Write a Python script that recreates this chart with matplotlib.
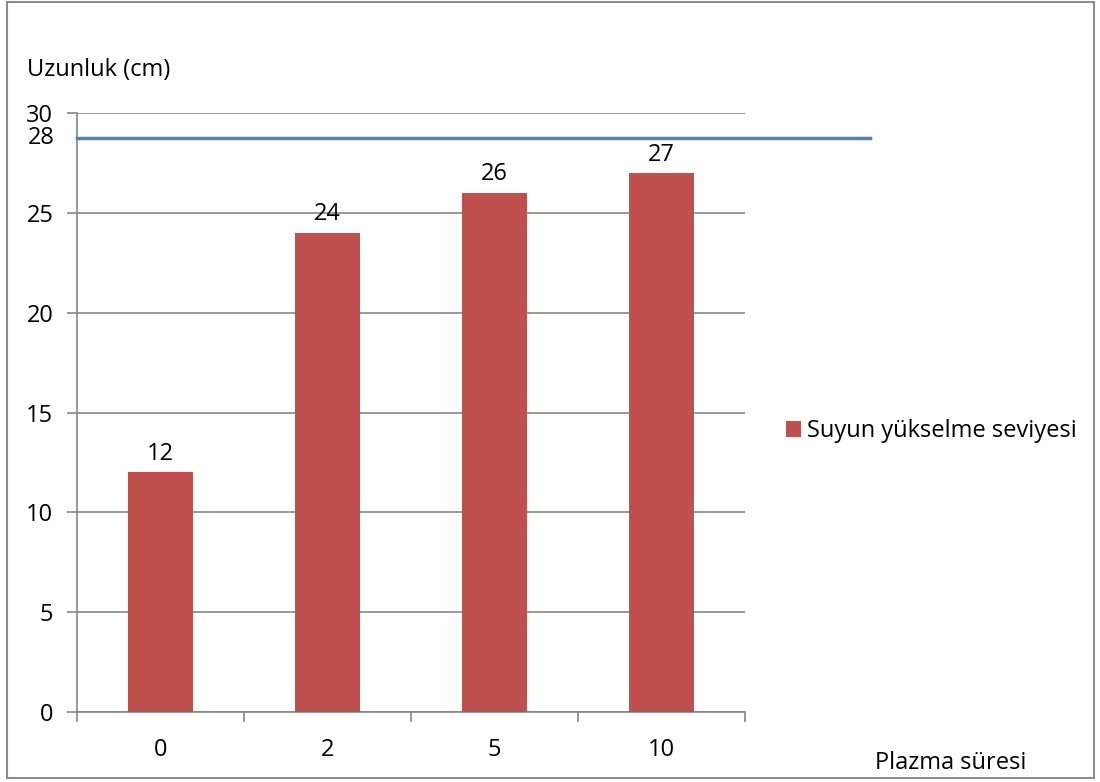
import numpy as np
import matplotlib.pyplot as plt
from matplotlib.patches import Rectangle

plt.rcParams['font.family'] = ['Open Sans', 'DejaVu Sans']

categories = ['0', '2', '5', '10']
values = [12, 24, 26, 27]
level = 28.75
level_label = '28'
series_name = 'Suyun yükselme seviyesi'

bar_color = '#C0504D'
line_color = '#4F81BD'
grid_color = '#868686'
fs = 17

fig = plt.figure(figsize=(11, 7.82), dpi=100)
fig.patches.append(Rectangle((7 / 1100, 4 / 782), 1087 / 1100, 776 / 782,
                             transform=fig.transFigure, fill=False,
                             edgecolor='#8C8C8C', linewidth=1.5))

ax = fig.add_axes([77 / 1100, 1 - 712 / 782, 668 / 1100, 599 / 782])
index = np.arange(len(categories))

rects = ax.bar(index, values, 0.395, color=bar_color, zorder=3,
               label=series_name)
for bar in rects:
    yval = bar.get_height()
    ax.text(bar.get_x() + bar.get_width() / 2, yval + 0.32, str(yval),
            ha='center', va='bottom', fontsize=fs)

# water level line runs past the plot area to the right
ax.plot([-0.5, 4.25], [level, level], color=line_color, linewidth=2.5,
        clip_on=False, zorder=4)
ax.annotate(level_label, xy=(0, level), xycoords=('axes fraction', 'data'),
            xytext=(-16, 0), textcoords='offset points', ha='right',
            va='center', fontsize=fs)

ax.set_xlim(-0.5, 3.5)
ax.set_ylim(0, 30)
ax.set_yticks(np.arange(0, 31, 5))
ax.yaxis.grid(True, color=grid_color, linewidth=1.2)
ax.set_axisbelow(True)

ax.set_xticks(index)
ax.set_xticklabels(categories)
ax.set_xticks(np.arange(-0.5, 4, 1), minor=True)
ax.tick_params(axis='x', which='major', length=0, pad=18.5, labelsize=fs)
ax.tick_params(axis='x', which='minor', length=7, width=1.2, color=grid_color)
ax.tick_params(axis='y', length=7, width=1.2, color=grid_color, pad=10,
               labelsize=fs)

for side in ['top', 'right']:
    ax.spines[side].set_visible(False)
for side in ['left', 'bottom']:
    ax.spines[side].set_color(grid_color)
    ax.spines[side].set_linewidth(1.2)

fig.text(27 / 1100, 1 - 70 / 782, 'Uzunluk (cm)', fontsize=fs, va='center')
fig.text(875 / 1100, 1 - 763 / 782, 'Plazma süresi', fontsize=fs, va='center')

ax.legend(handles=[rects], loc='center left', bbox_to_anchor=(786 / 1100, 1 - 431 / 782),
          bbox_transform=fig.transFigure, frameon=False, fontsize=fs,
          handlelength=0.65, handleheight=0.65, handletextpad=0.25,
          borderpad=0, borderaxespad=0)

fig.savefig('out.png', dpi=100)
